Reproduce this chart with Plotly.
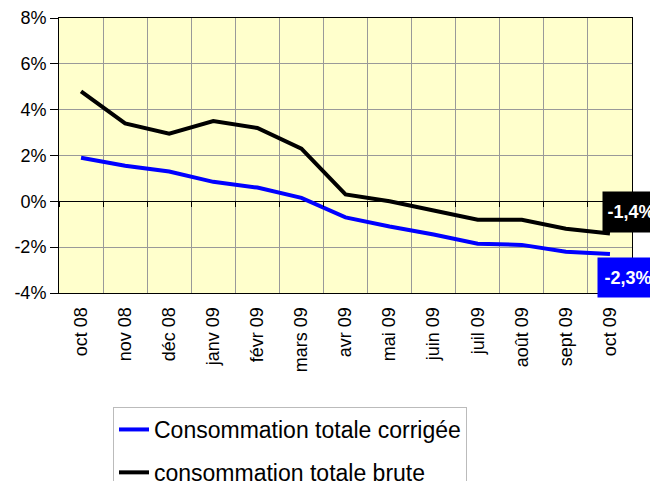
import plotly.graph_objects as go

months = ["oct 08", "nov 08", "déc 08", "janv 09", "févr 09", "mars 09", "avr 09",
          "mai 09", "juin 09", "juil 09", "août 09", "sept 09", "oct 09"]
corrigee = [1.9, 1.55, 1.3, 0.85, 0.6, 0.15, -0.7, -1.1, -1.45, -1.85, -1.9, -2.2, -2.3]
brute = [4.8, 3.4, 2.95, 3.5, 3.2, 2.3, 0.3, 0.0, -0.4, -0.8, -0.8, -1.2, -1.4]
yticks = [-4, -2, 0, 2, 4, 6, 8]
ytick_labels = ["-4%", "-2%", "0%", "2%", "4%", "6%", "8%"]

font = "Liberation Sans, Arial, sans-serif"

# the page body keeps its default 8px margin, so the figure is sized to fill the rest
W, H = 650, 473

fig = go.Figure()
fig.add_trace(go.Scatter(x=months, y=corrigee, mode="lines", name="Consommation totale corrigée",
                         line=dict(color="#0000FF", width=4), legendgroup="a"))
fig.add_trace(go.Scatter(x=months, y=brute, mode="lines", name="consommation totale brute",
                         line=dict(color="#000000", width=4), legendgroup="b"))
# invisible trace on a second x axis used only to draw the small ticks on the 0% line
fig.add_trace(go.Scatter(x=months, y=brute, xaxis="x2", mode="lines", showlegend=False,
                         line=dict(width=0), hoverinfo="skip", opacity=0))

def fmt(v):
    return f"{v:.1f}".replace(".", ",") + "%"

fig.add_annotation(x=months[-1], y=brute[-1], text="<b>" + fmt(brute[-1]) + "</b>",
                   showarrow=False, xshift=21, yshift=21, width=56, height=40,
                   bgcolor="#000000", borderpad=0,
                   font=dict(family=font, size=18, color="white"))
fig.add_annotation(x=months[-1], y=corrigee[-1], text="<b>" + fmt(corrigee[-1]) + "</b>",
                   showarrow=False, xshift=18, yshift=-23, width=60, height=39,
                   bgcolor="#0000FF", borderpad=0,
                   font=dict(family=font, size=18, color="white"))

fig.update_layout(
    width=W, height=H,
    margin=dict(l=51, r=26, t=10, b=188, autoexpand=False),
    paper_bgcolor="white",
    plot_bgcolor="#FFFFCC",
    font=dict(family=font, size=18, color="black"),
    showlegend=True,
    legend=dict(
        xref="container", yref="container",
        x=105 / W, y=1 - 399 / H, xanchor="left", yanchor="top",
        bordercolor="#BBBBBB", borderwidth=1, bgcolor="white",
        font=dict(family=font, size=23, color="black"),
        traceorder="grouped", tracegroupgap=10,
        entrywidth=372, entrywidthmode="pixels",
    ),
    xaxis2=dict(
        overlaying="x", anchor="free", position=1 / 3, side="bottom", matches="x",
        type="category", tickson="boundaries", ticks="outside", ticklen=5,
        tickcolor="black", showticklabels=False, showgrid=False, showline=False,
        zeroline=False,
    ),
)
fig.layout.xaxis.update(
    type="category", tickson="boundaries", showgrid=True, gridcolor="#999999", gridwidth=1,
    tickangle=-90, ticks="", showline=True, linecolor="black", linewidth=1, mirror=True,
    range=[-0.5, len(months) - 0.5], ticklabelstandoff=6,
)
fig.update_yaxes(
    range=[-4, 8], tickmode="array", tickvals=yticks, ticktext=ytick_labels,
    showgrid=True, gridcolor="#999999",
    gridwidth=1, zeroline=True, zerolinecolor="black", zerolinewidth=1,
    ticks="outside", ticklen=8, tickcolor="black",
    showline=True, linecolor="black", linewidth=1, mirror=True,
)

fig.write_html("out.html")
